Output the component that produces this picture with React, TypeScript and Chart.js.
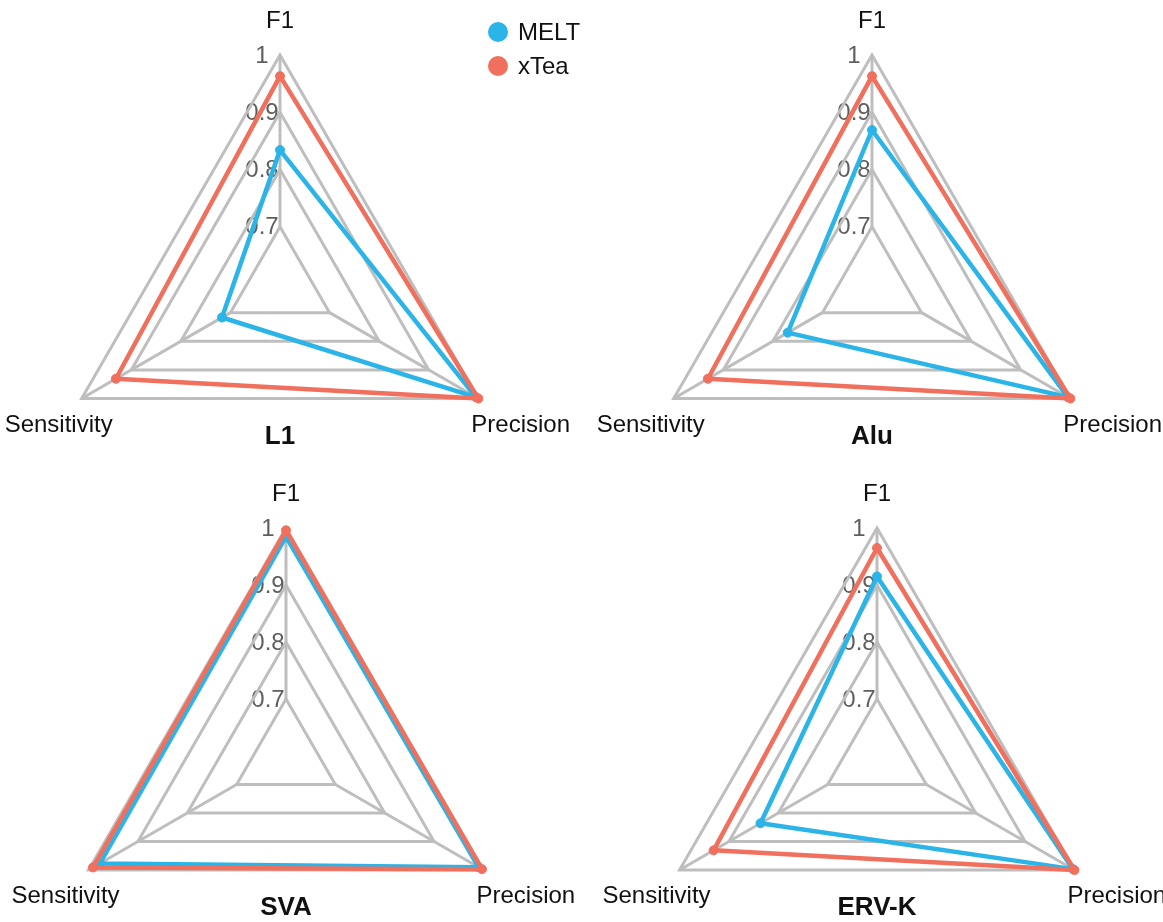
import React, { useEffect, useRef } from 'react';
import { Chart, registerables } from 'chart.js';

Chart.register(...registerables);

// ---------- data ----------
// axis order (clockwise from top): F1, Precision, Sensitivity
const AXES = ['F1', 'Precision', 'Sensitivity'];
const TICK_VALUES = [0.7, 0.8, 0.9, 1];
const TICK_LABELS = ['0.7', '0.8', '0.9', '1'];
const SERIES = ['MELT', 'xTea'];
const PANEL_TITLES = ['L1', 'Alu', 'SVA', 'ERV-K'];

const MELT_L1 = [0.834, 0.995, 0.717];
const XTEA_L1 = [0.963, 1.0, 0.931];
const MELT_ALU = [0.869, 0.995, 0.77];
const XTEA_ALU = [0.963, 1.0, 0.931];
const MELT_SVA = [0.985, 0.99, 0.977];
const XTEA_SVA = [0.996, 0.997, 0.991];
const MELT_ERVK = [0.915, 0.997, 0.836];
const XTEA_ERVK = [0.965, 1.0, 0.931];

const PANEL_DATA = [
  [MELT_L1, XTEA_L1],
  [MELT_ALU, XTEA_ALU],
  [MELT_SVA, XTEA_SVA],
  [MELT_ERVK, XTEA_ERVK],
];

// ---------- layout & style ----------
const FONT = '"Liberation Sans", Arial, Helvetica, sans-serif';
const COLORS = ['#2AB4E7', '#F06F5D'];
const GRID = '#BEBEBE';
const TICK_COLOR = '#5E5E5E';
const CANVAS = 600;
const PANEL_POS = [
  { cx: 280, cy: 284, r: 229 },
  { cx: 872, cy: 284, r: 229 },
  { cx: 286, cy: 756, r: 228 },
  { cx: 877, cy: 756, r: 228 },
];

const radarDecor = {
  id: 'radarDecor',
  beforeDraw(chart: any) {
    const s = chart.scales.r;
    const ctx = chart.ctx;
    ctx.save();
    ctx.font = `24px ${FONT}`;
    ctx.fillStyle = TICK_COLOR;
    ctx.textAlign = 'center';
    ctx.textBaseline = 'middle';
    TICK_VALUES.forEach((v, i) => {
      const p = s.getPointPositionForValue(0, v);
      ctx.fillText(TICK_LABELS[i], p.x - 18, p.y + 1);
    });
    ctx.restore();
  },
  beforeDatasetsDraw(chart: any) {
    const s = chart.scales.r;
    const ctx = chart.ctx;
    const n = chart.data.labels.length;
    ctx.save();
    ctx.strokeStyle = GRID;
    ctx.lineWidth = 3;
    for (let i = 0; i < n; i++) {
      const a = s.getPointPositionForValue(i, TICK_VALUES[0]);
      const b = s.getPointPositionForValue(i, TICK_VALUES[TICK_VALUES.length - 1]);
      ctx.beginPath();
      ctx.moveTo(a.x, a.y);
      ctx.lineTo(b.x, b.y);
      ctx.stroke();
    }
    ctx.restore();
  },
  afterDraw(chart: any, _args: any, opts: any) {
    const s = chart.scales.r;
    const ctx = chart.ctx;
    const labels = chart.data.labels;
    const maxV = TICK_VALUES[TICK_VALUES.length - 1];
    ctx.save();
    ctx.fillStyle = '#111111';
    ctx.font = `24px ${FONT}`;
    ctx.textBaseline = 'alphabetic';
    const p0 = s.getPointPositionForValue(0, maxV);
    ctx.textAlign = 'center';
    ctx.fillText(labels[0], p0.x, p0.y - 27);
    const p1 = s.getPointPositionForValue(1, maxV);
    ctx.textAlign = 'left';
    ctx.fillText(labels[1], p1.x - 7, p1.y + 33);
    const p2 = s.getPointPositionForValue(2, maxV);
    ctx.textAlign = 'right';
    ctx.fillText(labels[2], p2.x + 31, p2.y + 33);
    ctx.font = `bold 26px ${FONT}`;
    ctx.textAlign = 'center';
    ctx.fillText(opts.title, s.xCenter, p1.y + 45);
    ctx.restore();
  },
};

function RadarPanel({ index }: { index: number }) {
  const ref = useRef<HTMLCanvasElement | null>(null);
  const pos = PANEL_POS[index];
  useEffect(() => {
    if (!ref.current) return;
    const pad = CANVAS / 2 - pos.r;
    const chart = new Chart(ref.current, {
      type: 'radar',
      data: {
        labels: AXES,
        datasets: SERIES.map((name, k) => ({
          label: name,
          data: PANEL_DATA[index][k],
          borderColor: COLORS[k],
          backgroundColor: COLORS[k],
          pointBackgroundColor: COLORS[k],
          pointBorderColor: COLORS[k],
          borderWidth: 4.5,
          pointRadius: 4.5,
          pointBorderWidth: 1,
          borderJoinStyle: 'round',
          fill: false,
          order: SERIES.length - k,
        })),
      },
      options: {
        animation: false,
        responsive: false,
        layout: { padding: pad },
        scales: {
          r: {
            min: 0.6,
            max: 1.0,
            ticks: { display: false, stepSize: 0.1 },
            grid: { color: GRID, lineWidth: 3 },
            angleLines: { display: false },
            pointLabels: { display: false },
          },
        },
        plugins: {
          legend: { display: false },
          tooltip: { enabled: false },
          radarDecor: { title: PANEL_TITLES[index] },
        } as any,
      },
      plugins: [radarDecor],
    } as any);
    return () => chart.destroy();
  }, [index]);
  return (
    <canvas
      ref={ref}
      width={CANVAS}
      height={CANVAS}
      style={{
        position: 'absolute',
        left: pos.cx - CANVAS / 2,
        top: pos.cy - CANVAS / 2,
        width: CANVAS,
        height: CANVAS,
      }}
    />
  );
}

export default function App() {
  return (
    <div
      style={{
        position: 'absolute',
        left: 0,
        top: 0,
        width: 1163,
        height: 922,
        overflow: 'hidden',
        background: '#ffffff',
        fontFamily: FONT,
      }}
    >
      {PANEL_TITLES.map((_, i) => (
        <RadarPanel key={i} index={i} />
      ))}
      {SERIES.map((name, k) => (
        <div
          key={name}
          style={{
            position: 'absolute',
            left: 488,
            top: 20 + k * 34,
            height: 24,
            display: 'flex',
            alignItems: 'center',
            fontSize: 24,
            color: '#111111',
            whiteSpace: 'nowrap',
          }}
        >
          <span
            style={{
              display: 'inline-block',
              width: 20,
              height: 20,
              borderRadius: '50%',
              background: COLORS[k],
              marginRight: 10,
            }}
          />
          <span>{name}</span>
        </div>
      ))}
    </div>
  );
}
